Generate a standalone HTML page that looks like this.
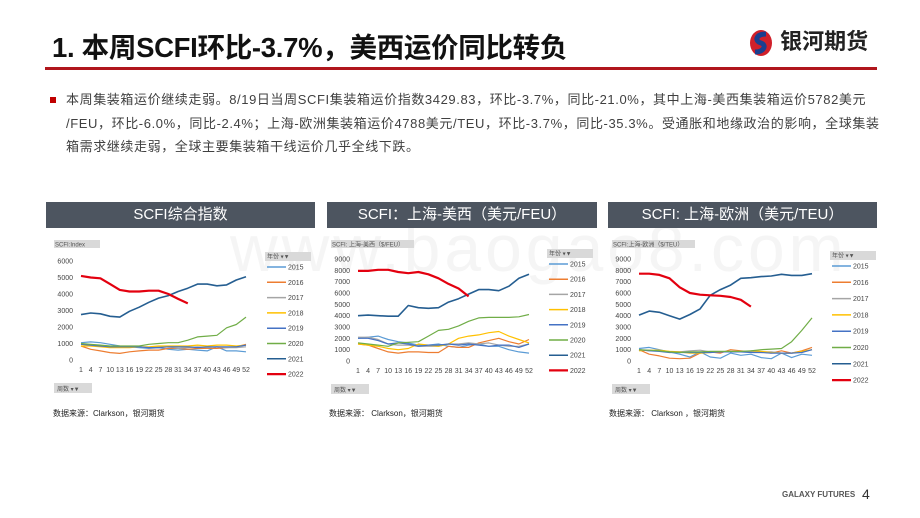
<!DOCTYPE html>
<html><head><meta charset="utf-8">
<style>
body{margin:0;width:920px;height:518px;background:#fff;position:relative;overflow:hidden;font-family:"Liberation Sans","Noto Sans CJK SC",sans-serif;}
.abs{position:absolute;}
.title{left:52px;top:25px;font-size:27.5px;font-weight:bold;color:#111;letter-spacing:-0.3px;}
.rule{left:45px;top:67px;width:832px;height:3px;background:#b0161c;}
.logo{left:748px;top:24px;font-size:22px;font-weight:bold;color:#222;}
.body{left:66px;top:88px;width:830px;font-size:13px;letter-spacing:0.6px;line-height:23.5px;color:#404040;white-space:nowrap;}
.bullet{left:50px;top:97px;width:6px;height:6px;background:#c00000;}
.hdr{top:202px;height:26px;background:#4d5560;color:#fff;font-size:15px;text-align:center;line-height:26px;}
.wm{left:230px;top:210px;font-size:66px;color:#f5f5f5;letter-spacing:4px;}
.src{font-size:8px;color:#222;top:408px;}
.foot{left:782px;top:490px;font-size:8px;color:#555;font-weight:bold;}
.pg{left:862px;top:486px;font-size:14px;color:#333;}
</style></head><body>
<div class="abs wm">www.baogao8.com</div>
<div class="abs title">1. 本周SCFI环比-3.7%，美西运价同比转负</div>
<div class="abs logo"><svg width="26" height="30" viewBox="0 0 26 30" style="vertical-align:middle"><ellipse cx="13" cy="15" rx="11" ry="13" fill="#d0202a"/><path d="M18 6 C8 6 6 13 13 15 C19 17 16 24 7 24" stroke="#1a3f8f" stroke-width="5" fill="none"/></svg> 银河期货</div>
<div class="abs rule"></div>
<div class="abs bullet"></div>
<div class="abs body">本周集装箱运价继续走弱。8/19日当周SCFI集装箱运价指数3429.83，环比-3.7%，同比-21.0%，其中上海-美西集装箱运价5782美元<br>/FEU，环比-6.0%，同比-2.4%；上海-欧洲集装箱运价4788美元/TEU，环比-3.7%，同比-35.3%。受通胀和地缘政治的影响，全球集装<br>箱需求继续走弱，全球主要集装箱干线运价几乎全线下跌。</div>
<div class="abs hdr" style="left:46px;width:269px">SCFI综合指数</div>
<div class="abs hdr" style="left:327px;width:270px">SCFI：上海-美西（美元/FEU）</div>
<div class="abs hdr" style="left:608px;width:269px">SCFI: 上海-欧洲（美元/TEU）</div>
<div class="abs src" style="left:53px">数据来源：Clarkson，银河期货</div>
<div class="abs src" style="left:329px">数据来源：  Clarkson，银河期货</div>
<div class="abs src" style="left:609px">数据来源：  Clarkson ，银河期货</div>
<div class="abs foot">GALAXY FUTURES</div>
<div class="abs pg">4</div>
<svg id="charts" class="abs" style="left:0;top:0" width="920" height="518"></svg>
<script>
const years=["2015","2016","2017","2018","2019","2020","2021","2022"];
const weeks=[1,4,7,10,13,16,19,22,25,28,31,34,37,40,43,46,49,52];
const weekTicks=["1","4","7","10","13","16","19","22","25","28","31","34","37","40","43","46","49","52"];
const c1Ticks=[0,1000,2000,3000,4000,5000,6000];
const c23Ticks=[0,1000,2000,3000,4000,5000,6000,7000,8000,9000];
const c1_2015=[1050,1100,1050,950,850,800,750,700,750,650,600,650,600,550,800,550,550,500];
const c1_2016=[850,650,550,450,400,500,550,600,600,700,700,650,700,700,700,750,800,950];
const c1_2017=[950,900,850,800,800,800,800,750,800,800,700,750,800,750,800,750,750,800];
const c1_2018=[850,850,800,750,750,750,800,800,850,850,850,850,900,850,900,900,850,900];
const c1_2019=[950,900,850,800,800,800,800,750,750,800,800,800,750,800,800,800,800,900];
const c1_2020=[1000,950,900,850,850,850,850,950,1000,1050,1050,1200,1400,1450,1500,1950,2150,2600];
const c1_2021=[2750,2850,2800,2650,2600,2950,3200,3500,3750,3900,4150,4350,4600,4600,4500,4550,4850,5050];
const c1_2022=[5100,5000,4950,4600,4250,4150,4150,4200,4200,4000,3700,3430];
const c2_2015=[2000,2100,2200,1900,1700,1600,1400,1400,1500,1300,1200,1400,1500,1300,1300,1000,800,700];
const c2_2016=[1500,1400,1100,800,700,800,800,750,750,1300,1200,1200,1600,1800,2000,1700,1500,1900];
const c2_2017=[2100,2100,1900,1500,1400,1400,1300,1300,1300,1500,1500,1600,1500,1600,1400,1300,1300,1500];
const c2_2018=[1500,1400,1300,1100,1000,1100,1500,1400,1300,1500,2000,2200,2300,2500,2600,2200,1900,1600];
const c2_2019=[2000,2000,1800,1500,1600,1500,1300,1400,1400,1500,1400,1500,1400,1300,1400,1400,1200,1500];
const c2_2020=[1600,1500,1400,1300,1600,1650,1700,2200,2700,2800,3100,3500,3800,3850,3850,3850,3900,4100];
const c2_2021=[4000,4050,4000,3950,3950,4900,4700,4650,4700,5200,5500,5900,6300,6300,6200,6600,7300,7650];
const c2_2022=[7950,7950,8050,8050,7850,7750,7850,7650,7300,6800,6400,5700];
const c3_2015=[1100,1200,1000,800,600,350,800,350,250,700,500,600,300,200,700,300,600,500];
const c3_2016=[1000,600,450,250,200,250,700,800,700,1000,900,800,800,700,900,700,900,1200];
const c3_2017=[1000,900,900,800,800,900,950,800,800,800,800,800,800,800,700,700,800,1000];
const c3_2018=[900,950,950,850,800,700,700,750,800,800,800,900,850,750,700,700,850,1000];
const c3_2019=[1000,900,850,750,750,750,750,750,800,800,800,750,750,700,700,700,750,1000];
const c3_2020=[1000,950,900,800,750,800,800,850,850,850,850,900,1000,1050,1100,1700,2700,3800];
const c3_2021=[4050,4400,4300,4000,3700,4100,4600,5800,6300,6700,7300,7350,7450,7500,7650,7550,7550,7700];
const c3_2022=[7700,7700,7600,7300,6500,6000,5850,5800,5750,5650,5400,4800];

const colors=["#5b9bd5","#ed7d31","#a5a5a5","#ffc000","#4472c4","#70ad47","#255e91","#e3000f"];
const NS="http://www.w3.org/2000/svg";
const svg=document.getElementById('charts');
function mk(tag,attrs,parent){const e=document.createElementNS(NS,tag);for(const k in attrs)e.setAttribute(k,attrs[k]);(parent||svg).appendChild(e);return e;}

function drawChart(id,cfg,series){
  const g=mk('g',{});
  
  
  const xs=w=>cfg.x0+(w-1)/51*(cfg.x1-cfg.x0);
  const ys=v=>cfg.y0-v/cfg.max*(cfg.y0-cfg.yTop);
  const tag=mk('rect',{x:cfg.x0-27,y:cfg.tagY,width:cfg.tagW,height:8,fill:'#d9d9d9'},g);
  
  
  const tt=mk('text',{x:cfg.x0-26,y:cfg.tagY+6.5,'font-size':6,fill:'#555'},g);tt.textContent=cfg.tag;
  const wb=mk('rect',{x:cfg.x0-27,y:cfg.y0+23,width:38,height:10,fill:'#d9d9d9'},g);
  
  
  const wt=mk('text',{x:cfg.x0-24,y:cfg.y0+31,'font-size':6,fill:'#555'},g);wt.textContent='周数 ▾▼';
  const yb=mk('rect',{x:cfg.lx-2,y:cfg.ly-15,width:46,height:9,fill:'#d9d9d9'},g);
  
  
  const yt=mk('text',{x:cfg.lx,y:cfg.ly-8.5,'font-size':6,fill:'#555'},g);yt.textContent='年份    ▾▼';
  cfg.ticks.forEach(t=>{
    const l=mk('text',{x:cfg.x0-8,y:ys(t)+2.5,'font-size':7,fill:'#444','text-anchor':'end'},g);
    
    
    l.textContent=t;
  });
  weeks.forEach((w,i)=>{
    const l=mk('text',{x:xs(w),y:cfg.y0+12,'font-size':7,fill:'#444','text-anchor':'middle'},g);
    
    
    l.textContent=weekTicks[i];
  });
  series.forEach((vals,si)=>{
    const pts=vals.map((v,i)=>xs(weeks[i]).toFixed(1)+','+ys(v).toFixed(1)).join(' ');
    const p=mk('polyline',{points:pts,fill:'none',stroke:colors[si],'stroke-width':si==7?2.2:(si==6?1.6:1.2),'stroke-linejoin':'round'},g);
    
    
    const ly=cfg.ly+si*cfg.lstep;
    const ls=mk('line',{x1:cfg.lx,y1:ly,x2:cfg.lx+19,y2:ly,stroke:colors[si],'stroke-width':si==7?2.2:1.5},g);
    
    
    const lt=mk('text',{x:cfg.lx+21,y:ly+2.5,'font-size':7,fill:'#444'},g);
    
    
    lt.textContent=years[si];
  });
}
drawChart('chart-scfi-index',{x0:81,x1:246,y0:360,yTop:261,max:6000,ticks:c1Ticks,tag:'SCFI:Index',tagY:240,tagW:46,lx:267,ly:267,lstep:15.3},
  [c1_2015,c1_2016,c1_2017,c1_2018,c1_2019,c1_2020,c1_2021,c1_2022]);
drawChart('chart-us-west',{x0:358,x1:529,y0:361,yTop:259,max:9000,ticks:c23Ticks,tag:'SCFI: 上海-美西（$/FEU）',tagY:240,tagW:83,lx:549,ly:264,lstep:15.2},
  [c2_2015,c2_2016,c2_2017,c2_2018,c2_2019,c2_2020,c2_2021,c2_2022]);
drawChart('chart-europe',{x0:639,x1:812,y0:361,yTop:259,max:9000,ticks:c23Ticks,tag:'SCFI:上海-欧洲（$/TEU）',tagY:240,tagW:83,lx:832,ly:266,lstep:16.3},
  [c3_2015,c3_2016,c3_2017,c3_2018,c3_2019,c3_2020,c3_2021,c3_2022]);
</script>
</body></html>
